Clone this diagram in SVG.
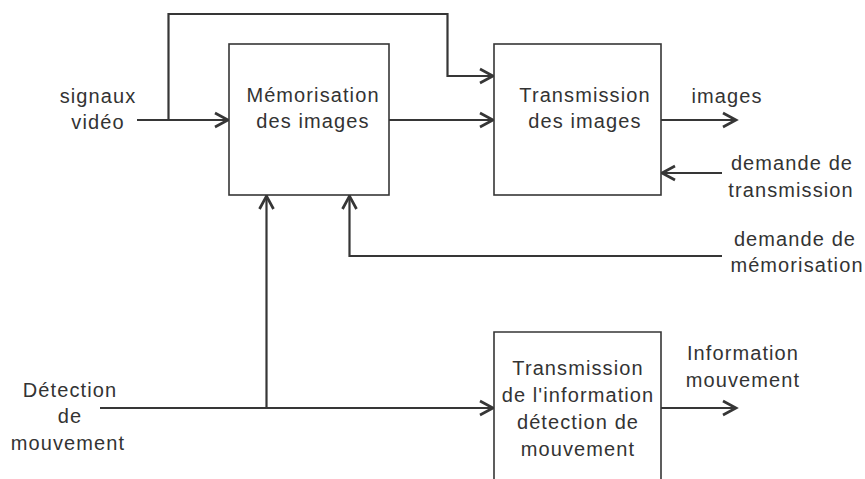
<svg xmlns="http://www.w3.org/2000/svg" width="865" height="479" viewBox="0 0 865 479">
  <style>
    .box { fill: #ffffff; stroke: #363636; stroke-width: 1.6; }
    .wire { fill: none; stroke: #363636; stroke-width: 2.2; }
    .lbl { font-family: "Liberation Sans", Arial, sans-serif; font-size: 20px; letter-spacing: 1.1px; fill: #333333; text-anchor: middle; }
  </style>
  <defs>
    <marker id="arrow" viewBox="-16 -10 20 20" refX="0" refY="0" markerWidth="20" markerHeight="20" markerUnits="userSpaceOnUse" orient="auto">
      <path d="M-14,-7 L-1,0 L-14,7" fill="none" stroke="#363636" stroke-width="2.7" stroke-linejoin="miter"/>
    </marker>
  </defs>
  <rect width="865" height="479" fill="#ffffff"/>

  <!-- Connectors -->
  <g id="connectors">
    <path class="wire" d="M137,120 H229" marker-end="url(#arrow)"/>
    <path class="wire" d="M168.5,120 V14 H447.5 V76 H494" marker-end="url(#arrow)"/>
    <path class="wire" d="M389,120 H494" marker-end="url(#arrow)"/>
    <path class="wire" d="M661,120 H737" marker-end="url(#arrow)"/>
    <path class="wire" d="M722,173 H661" marker-end="url(#arrow)"/>
    <path class="wire" d="M722,256 H349.5 V195" marker-end="url(#arrow)"/>
    <path class="wire" d="M100,408 H494" marker-end="url(#arrow)"/>
    <path class="wire" d="M266.5,408 V195" marker-end="url(#arrow)"/>
    <path class="wire" d="M661,408 H737" marker-end="url(#arrow)"/>
  </g>

  <!-- Blocks -->
  <g id="memorisation">
    <rect class="box" x="229" y="44" width="160" height="151"/>
    <text class="lbl" x="313" y="102">Mémorisation</text>
    <text class="lbl" x="313" y="128">des images</text>
  </g>
  <g id="transmission-images">
    <rect class="box" x="494" y="44" width="167" height="151"/>
    <text class="lbl" x="585" y="102">Transmission</text>
    <text class="lbl" x="585" y="128">des images</text>
  </g>
  <g id="transmission-info">
    <path class="box" d="M494,480 V332 H661 V480"/>
    <text class="lbl" x="578" y="375">Transmission</text>
    <text class="lbl" x="578" y="402">de l'information</text>
    <text class="lbl" x="578" y="429">détection de</text>
    <text class="lbl" x="578" y="456">mouvement</text>
  </g>

  <!-- Signal labels -->
  <g id="in-video">
    <text class="lbl" x="98" y="103">signaux</text>
    <text class="lbl" x="98" y="129">vidéo</text>
  </g>
  <g id="out-images">
    <text class="lbl" x="727" y="103">images</text>
  </g>
  <g id="in-demande-transmission">
    <text class="lbl" x="792" y="170">demande de</text>
    <text class="lbl" x="791" y="197">transmission</text>
  </g>
  <g id="in-demande-memorisation">
    <text class="lbl" x="795" y="246">demande de</text>
    <text class="lbl" x="797" y="272">mémorisation</text>
  </g>
  <g id="in-detection">
    <text class="lbl" x="70" y="397">Détection</text>
    <text class="lbl" x="70" y="423">de</text>
    <text class="lbl" x="68" y="450">mouvement</text>
  </g>
  <g id="out-information">
    <text class="lbl" x="743" y="360">Information</text>
    <text class="lbl" x="743" y="387">mouvement</text>
  </g>
</svg>
